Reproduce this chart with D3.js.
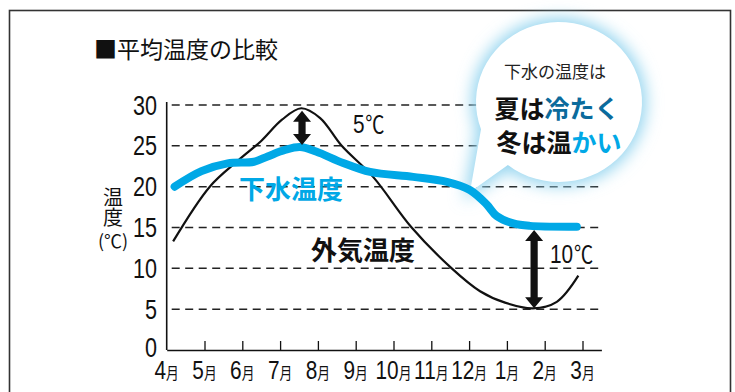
<!DOCTYPE html>
<html>
<head>
<meta charset="utf-8">
<script src="https://cdn.jsdelivr.net/npm/d3@7"></script>
<style>
  html, body { margin: 0; padding: 0; background: #fff; }
  svg { display: block; }
  .jp { font-family: "Noto Sans CJK JP", "Noto Sans", sans-serif; }
  .num { font-family: "Liberation Sans", "DejaVu Sans", sans-serif; }
</style>
</head>
<body>
<div id="chart"></div>
<script>
const months = ['4', '5', '6', '7', '8', '9', '10', '11', '12', '1', '2', '3'];
const yTicks = [0, 5, 10, 15, 20, 25, 30];

// 外気温度 (month index, ℃)
const airPos  = [0.17, 1.14, 1.89, 2.5, 3.05, 3.56, 4.06, 4.63, 5.46, 6.48, 7.54, 8.29, 8.95, 9.69, 10.32, 10.89];
const airTemp = [13.3, 20.0, 23.2, 25.6, 28.2, 29.6, 28.4, 25.0, 21.2, 15.0, 10.0, 7.2, 5.8, 5.1, 5.9, 9.1];

// 下水温度
const sewerPos  = [0.21, 0.92, 1.61, 2.31, 2.67, 3.13, 3.53, 3.95, 4.67, 5.38, 6.52, 7.41, 8.02, 8.47, 8.73, 9.17, 9.61, 10.85];
const sewerTemp = [20.0, 21.9, 22.85, 23.05, 23.7, 24.5, 24.85, 24.3, 22.9, 21.8, 21.2, 20.6, 19.6, 17.8, 16.4, 15.5, 15.2, 15.1];

// 温度差の矢印
const diffPos   = [3.58, 9.72];
const diffFrom  = [29.3, 14.7];
const diffTo    = [25.1, 5.1];
const diffLabel = ['5', '10'];

const BLUE = '#00a8e6';
const DARK_BLUE = '#0b6b9c';
const NARROW = 0.8; // condensed look of the number font

const width = 735, height = 392;

const svg = d3.select('#chart').append('svg')
  .attr('width', width)
  .attr('height', height);

const defs = svg.append('defs');
const glow = defs.append('filter')
  .attr('id', 'glow')
  .attr('x', '-30%').attr('y', '-30%')
  .attr('width', '160%').attr('height', '160%');
glow.append('feGaussianBlur').attr('stdDeviation', 8);

// 外枠
svg.append('rect')
  .attr('x', 9.5).attr('y', 10.5)
  .attr('width', 721).attr('height', 420)
  .attr('fill', 'none')
  .attr('stroke', '#333')
  .attr('stroke-width', 1.6);

const x = d3.scaleLinear().domain([0, 11.5]).range([166.7, 601.4]);
const y = d3.scaleLinear().domain([0, 30]).range([350, 105]);

// title
svg.append('text')
  .attr('class', 'jp')
  .attr('x', 94).attr('y', 58)
  .attr('font-size', 23)
  .attr('fill', '#111')
  .text('■平均温度の比較');

// grid lines
svg.append('g')
  .selectAll('line')
  .data(yTicks.filter(d => d > 0))
  .join('line')
  .attr('x1', x(0) + 5)
  .attr('x2', x(11.5))
  .attr('y1', d => y(d))
  .attr('y2', d => y(d))
  .attr('stroke', '#222')
  .attr('stroke-width', 1.5)
  .attr('stroke-dasharray', '8,5.5');

// y axis
svg.append('line')
  .attr('x1', x(0)).attr('x2', x(0))
  .attr('y1', y(30) - 3).attr('y2', y(0))
  .attr('stroke', '#111').attr('stroke-width', 1.6);

svg.append('g')
  .selectAll('text')
  .data(yTicks)
  .join('text')
  .attr('class', 'num')
  .attr('transform', d => `translate(157,${y(d) + (d === 0 ? 7 : 9.5)}) scale(${NARROW},1)`)
  .attr('text-anchor', 'end')
  .attr('font-size', 27)
  .attr('fill', '#111')
  .text(d => d);

// y label: 温度 written vertically, (℃) below
svg.append('text')
  .attr('class', 'jp')
  .attr('x', 113).attr('y', 187)
  .attr('writing-mode', 'vertical-rl')
  .attr('font-size', 20)
  .attr('fill', '#111')
  .text('温度');

svg.append('text')
  .attr('class', 'jp')
  .attr('x', 113).attr('y', 248)
  .attr('font-size', 18)
  .attr('text-anchor', 'middle')
  .attr('fill', '#111')
  .text('(℃)');

// x axis (ticks point upwards)
const xAxis = d3.axisBottom(x)
  .tickValues(d3.range(1, months.length))
  .tickSizeInner(-9)
  .tickSizeOuter(0)
  .tickFormat('');

svg.append('g')
  .attr('transform', `translate(0,${y(0)})`)
  .call(xAxis)
  .call(g => g.select('.domain').attr('stroke', '#111').attr('stroke-width', 1.6))
  .call(g => g.selectAll('.tick line').attr('stroke', '#111').attr('stroke-width', 1.3));

const xLabels = svg.append('g')
  .selectAll('text')
  .data(months)
  .join('text')
  .attr('transform', (d, i) => `translate(${x(i)},379) scale(${NARROW},1)`)
  .attr('text-anchor', 'middle')
  .attr('fill', '#111');
xLabels.append('tspan').attr('class', 'num').attr('font-size', 26).text(d => d);
xLabels.append('tspan').attr('class', 'jp').attr('font-size', 16).text('月');

// speech bubble
const cx = 559, cy = 102, rx = 83, ry = 80;
const bubblePath = (() => {
  const p = d3.path();
  const a1 = 200 * Math.PI / 180;
  const a2 = 232 * Math.PI / 180;
  const px = a => cx + rx * Math.cos(a);
  const py = a => cy - ry * Math.sin(a);
  p.moveTo(px(a1), py(a1));
  const steps = 60;
  for (let k = 1; k <= steps; k++) {
    const a = a1 - (a1 - a2 + 2 * Math.PI) * k / steps;
    p.lineTo(px(a), py(a));
  }
  p.lineTo(470, 192);
  p.closePath();
  return p.toString();
})();

svg.append('path')
  .attr('d', bubblePath)
  .attr('fill', '#93d4ef')
  .attr('stroke', '#93d4ef')
  .attr('stroke-width', 8)
  .attr('filter', 'url(#glow)');
svg.append('path')
  .attr('d', bubblePath)
  .attr('fill', '#fff');

svg.append('text')
  .attr('class', 'jp')
  .attr('x', 555).attr('y', 78)
  .attr('text-anchor', 'middle')
  .attr('font-size', 17)
  .attr('fill', '#222')
  .text('下水の温度は');

const line1 = svg.append('text')
  .attr('class', 'jp')
  .attr('x', 557).attr('y', 118)
  .attr('text-anchor', 'middle')
  .attr('font-size', 25)
  .attr('font-weight', 'bold')
  .attr('fill', '#111');
line1.append('tspan').text('夏は');
line1.append('tspan').attr('fill', DARK_BLUE).text('冷たく');

const line2 = svg.append('text')
  .attr('class', 'jp')
  .attr('x', 559).attr('y', 152)
  .attr('text-anchor', 'middle')
  .attr('font-size', 25)
  .attr('font-weight', 'bold')
  .attr('fill', '#111');
line2.append('tspan').text('冬は温');
line2.append('tspan').attr('fill', BLUE).text('かい');

// lines
const lineGen = d3.line()
  .x(d => x(d[0]))
  .y(d => y(d[1]))
  .curve(d3.curveCatmullRom.alpha(0.5));

svg.append('path')
  .datum(airPos.map((p, i) => [p, airTemp[i]]))
  .attr('d', lineGen)
  .attr('fill', 'none')
  .attr('stroke', '#111')
  .attr('stroke-width', 2.2);

svg.append('path')
  .datum(sewerPos.map((p, i) => [p, sewerTemp[i]]))
  .attr('d', lineGen)
  .attr('fill', 'none')
  .attr('stroke', BLUE)
  .attr('stroke-width', 8)
  .attr('stroke-linecap', 'round')
  .attr('stroke-linejoin', 'round');

// series labels
svg.append('text')
  .attr('class', 'jp')
  .attr('x', 291).attr('y', 199)
  .attr('text-anchor', 'middle')
  .attr('font-size', 26)
  .attr('font-weight', 'bold')
  .attr('fill', BLUE)
  .text('下水温度');

svg.append('text')
  .attr('class', 'jp')
  .attr('x', 363).attr('y', 260)
  .attr('text-anchor', 'middle')
  .attr('font-size', 26)
  .attr('font-weight', 'bold')
  .attr('fill', '#111')
  .text('外気温度');

// double arrows
const arrow = (xc, y1, y2) => {
  const hw = 9, sw = 3.6, hl = 11;
  return [
    [xc, y1], [xc + hw, y1 + hl], [xc + sw, y1 + hl],
    [xc + sw, y2 - hl], [xc + hw, y2 - hl], [xc, y2],
    [xc - hw, y2 - hl], [xc - sw, y2 - hl], [xc - sw, y1 + hl],
    [xc - hw, y1 + hl]
  ];
};

svg.append('g')
  .selectAll('polygon')
  .data(diffPos)
  .join('polygon')
  .attr('points', (d, i) => arrow(x(d), y(diffFrom[i]), y(diffTo[i])).join(' '))
  .attr('fill', '#111');

const diffText = svg.append('g')
  .selectAll('text')
  .data(diffLabel)
  .join('text')
  .attr('transform', (d, i) => i === 0 ? `translate(353,133) scale(${NARROW},1)` : `translate(550,263) scale(${NARROW},1)`)
  .attr('fill', '#111');
diffText.append('tspan').attr('class', 'num').attr('font-size', 26).text(d => d);
diffText.append('tspan').attr('class', 'jp').attr('font-size', 24).attr('dx', 1).text('℃');
</script>
</body>
</html>
